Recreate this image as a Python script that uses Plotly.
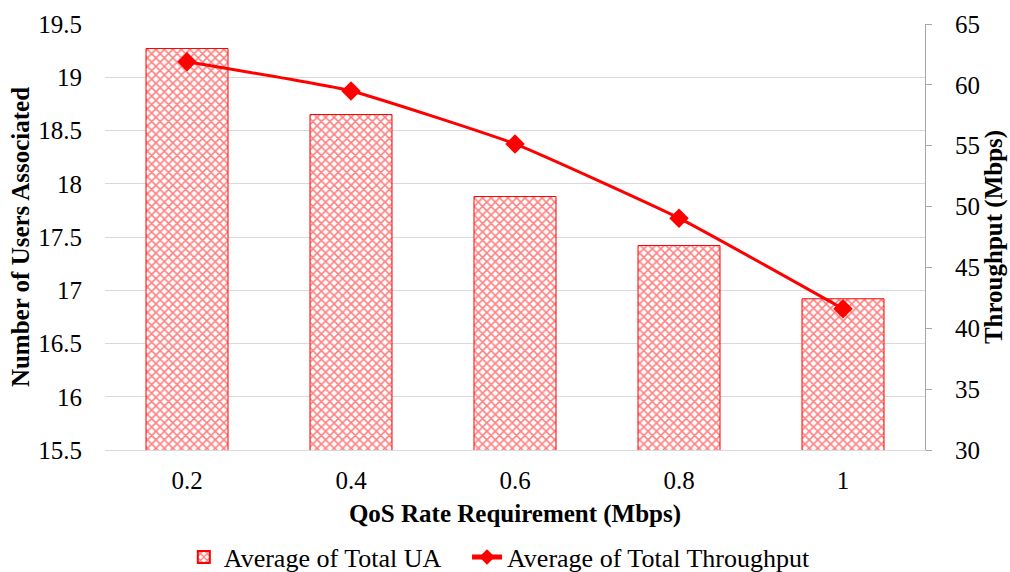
import plotly.graph_objects as go

categories = ["0.2", "0.4", "0.6", "0.8", "1"]
users_associated = [19.27, 18.65, 17.88, 17.42, 16.92]
throughput = [61.9, 59.5, 55.15, 49.05, 41.6]
left_ticks = [15.5, 16, 16.5, 17, 17.5, 18, 18.5, 19, 19.5]
right_ticks = [30, 35, 40, 45, 50, 55, 60, 65]

FAM = "Liberation Serif"
SZ = 25

def f(size=SZ, color="black"):
    return dict(family=FAM, size=size, color=color)

fig = go.Figure()
fig.add_trace(go.Bar(
    x=categories, y=users_associated, name="Average of Total UA",
    marker=dict(color="white", line=dict(color="red", width=1),
                pattern=dict(shape="x", fgcolor="red", bgcolor="white", size=6, solidity=0.45)),
    yaxis="y", legend="legend",
))
fig.add_trace(go.Scatter(
    x=categories, y=throughput, name="Average of Total Throughput",
    mode="lines+markers", line=dict(color="red", width=3, shape="spline", smoothing=0.4),
    marker=dict(symbol="diamond", size=15, color="red"),
    yaxis="y2", legend="legend2",
))

legend_common = dict(orientation="h", xref="container", yref="container",
                     xanchor="left", y=0.026, yanchor="middle",
                     font=f(26), itemsizing="constant", tracegroupgap=0, itemwidth=30,
                     bgcolor="rgba(0,0,0,0)")

fig.update_layout(
    width=1010, height=572,
    margin=dict(l=105, r=85, t=24, b=122),
    paper_bgcolor="white", plot_bgcolor="white",
    font=f(),
    bargap=0.5,
    showlegend=True,
    legend=dict(x=0.182, **legend_common),
    legend2=dict(x=0.4624, **legend_common),
    xaxis=dict(
        title=dict(text="<b>QoS Rate Requirement (Mbps)</b>", font=f(), standoff=11),
        showgrid=False, showline=True, linecolor="#d9d9d9", linewidth=1,
        ticks="", tickfont=f(), automargin=False, ticklabelstandoff=8,
    ),
    yaxis=dict(
        title=dict(text="<b>Number of Users Associated</b>", font=f(), standoff=1),
        range=[15.5, 19.5], tickvals=left_ticks,
        ticktext=[f"{v:g}" for v in left_ticks],
        showgrid=True, gridcolor="#d9d9d9", gridwidth=1,
        showline=False, zeroline=False, ticks="", ticklabelstandoff=22,
        tickfont=f(), automargin=False,
    ),
    yaxis2=dict(
        title=dict(text="<b>Throughput (Mbps)</b>", font=f(), standoff=0),
        range=[30, 65], tickvals=right_ticks, overlaying="y", side="right",
        showgrid=False, showline=True, linecolor="#a6a6a6", linewidth=1,
        ticks="outside", ticklen=6, tickcolor="#a6a6a6", ticklabelstandoff=18,
        zeroline=False, tickfont=f(), automargin=False,
    ),
)

fig.write_html("out.html")
